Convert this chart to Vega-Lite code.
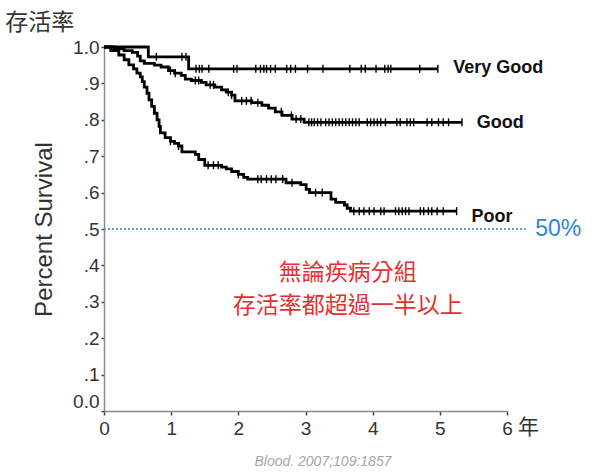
{
  "$schema": "https://vega.github.io/schema/vega-lite/v6.json",
  "width": 403,
  "height": 364,
  "autosize": {"type": "none"},
  "padding": {"left": 104, "top": 47, "right": 93, "bottom": 65},
  "background": "white",
  "config": {"view": {"stroke": null}, "font": "Liberation Sans"},
  "datasets": {
    "curves": [
      {"group": "Very Good", "t": 0, "s": 1.0},
      {"group": "Very Good", "t": 0.66, "s": 0.973},
      {"group": "Very Good", "t": 1.26, "s": 0.94},
      {"group": "Very Good", "t": 4.97, "s": 0.94},
      {"group": "Good", "t": 0, "s": 1.0},
      {"group": "Good", "t": 0.15, "s": 0.995},
      {"group": "Good", "t": 0.3, "s": 0.99},
      {"group": "Good", "t": 0.42, "s": 0.985},
      {"group": "Good", "t": 0.5, "s": 0.975},
      {"group": "Good", "t": 0.54, "s": 0.962},
      {"group": "Good", "t": 0.6, "s": 0.955},
      {"group": "Good", "t": 0.75, "s": 0.95},
      {"group": "Good", "t": 0.85, "s": 0.945},
      {"group": "Good", "t": 0.96, "s": 0.935},
      {"group": "Good", "t": 1.05, "s": 0.928},
      {"group": "Good", "t": 1.15, "s": 0.922},
      {"group": "Good", "t": 1.21, "s": 0.912},
      {"group": "Good", "t": 1.3, "s": 0.908},
      {"group": "Good", "t": 1.45, "s": 0.903},
      {"group": "Good", "t": 1.52, "s": 0.896},
      {"group": "Good", "t": 1.65, "s": 0.89},
      {"group": "Good", "t": 1.75, "s": 0.882},
      {"group": "Good", "t": 1.82, "s": 0.876},
      {"group": "Good", "t": 1.9, "s": 0.868},
      {"group": "Good", "t": 1.95, "s": 0.852},
      {"group": "Good", "t": 2.2, "s": 0.847},
      {"group": "Good", "t": 2.35, "s": 0.84},
      {"group": "Good", "t": 2.45, "s": 0.832},
      {"group": "Good", "t": 2.55, "s": 0.822},
      {"group": "Good", "t": 2.65, "s": 0.812},
      {"group": "Good", "t": 2.8, "s": 0.802},
      {"group": "Good", "t": 2.98, "s": 0.793},
      {"group": "Good", "t": 5.33, "s": 0.793},
      {"group": "Poor", "t": 0, "s": 1.0},
      {"group": "Poor", "t": 0.1, "s": 0.99},
      {"group": "Poor", "t": 0.22, "s": 0.978},
      {"group": "Poor", "t": 0.3, "s": 0.965},
      {"group": "Poor", "t": 0.37, "s": 0.951},
      {"group": "Poor", "t": 0.44, "s": 0.94},
      {"group": "Poor", "t": 0.49, "s": 0.928},
      {"group": "Poor", "t": 0.54, "s": 0.918},
      {"group": "Poor", "t": 0.57, "s": 0.905},
      {"group": "Poor", "t": 0.6, "s": 0.89},
      {"group": "Poor", "t": 0.64, "s": 0.873},
      {"group": "Poor", "t": 0.67, "s": 0.855},
      {"group": "Poor", "t": 0.71, "s": 0.837},
      {"group": "Poor", "t": 0.75, "s": 0.818},
      {"group": "Poor", "t": 0.79, "s": 0.8},
      {"group": "Poor", "t": 0.82, "s": 0.782},
      {"group": "Poor", "t": 0.84, "s": 0.764},
      {"group": "Poor", "t": 0.91, "s": 0.751},
      {"group": "Poor", "t": 0.99, "s": 0.741},
      {"group": "Poor", "t": 1.05, "s": 0.735},
      {"group": "Poor", "t": 1.11, "s": 0.728},
      {"group": "Poor", "t": 1.16, "s": 0.712},
      {"group": "Poor", "t": 1.36, "s": 0.705},
      {"group": "Poor", "t": 1.41, "s": 0.691},
      {"group": "Poor", "t": 1.5, "s": 0.675},
      {"group": "Poor", "t": 1.75, "s": 0.67},
      {"group": "Poor", "t": 1.82, "s": 0.665},
      {"group": "Poor", "t": 1.9, "s": 0.658},
      {"group": "Poor", "t": 2.0, "s": 0.65},
      {"group": "Poor", "t": 2.08, "s": 0.642},
      {"group": "Poor", "t": 2.14, "s": 0.637},
      {"group": "Poor", "t": 2.71, "s": 0.627},
      {"group": "Poor", "t": 2.93, "s": 0.622},
      {"group": "Poor", "t": 3.01, "s": 0.609},
      {"group": "Poor", "t": 3.06, "s": 0.6},
      {"group": "Poor", "t": 3.38, "s": 0.582},
      {"group": "Poor", "t": 3.45, "s": 0.573},
      {"group": "Poor", "t": 3.58, "s": 0.566},
      {"group": "Poor", "t": 3.62, "s": 0.557},
      {"group": "Poor", "t": 3.67, "s": 0.549},
      {"group": "Poor", "t": 5.25, "s": 0.549}
    ],
    "censor": [
      {"group": "Very Good", "t": 0.78, "s": 0.973},
      {"group": "Very Good", "t": 1.16, "s": 0.973},
      {"group": "Very Good", "t": 1.22, "s": 0.973},
      {"group": "Very Good", "t": 1.37, "s": 0.94},
      {"group": "Very Good", "t": 1.42, "s": 0.94},
      {"group": "Very Good", "t": 1.46, "s": 0.94},
      {"group": "Very Good", "t": 1.56, "s": 0.94},
      {"group": "Very Good", "t": 1.93, "s": 0.94},
      {"group": "Very Good", "t": 1.98, "s": 0.94},
      {"group": "Very Good", "t": 2.26, "s": 0.94},
      {"group": "Very Good", "t": 2.33, "s": 0.94},
      {"group": "Very Good", "t": 2.38, "s": 0.94},
      {"group": "Very Good", "t": 2.42, "s": 0.94},
      {"group": "Very Good", "t": 2.48, "s": 0.94},
      {"group": "Very Good", "t": 2.55, "s": 0.94},
      {"group": "Very Good", "t": 2.72, "s": 0.94},
      {"group": "Very Good", "t": 2.78, "s": 0.94},
      {"group": "Very Good", "t": 2.85, "s": 0.94},
      {"group": "Very Good", "t": 3.03, "s": 0.94},
      {"group": "Very Good", "t": 3.26, "s": 0.94},
      {"group": "Very Good", "t": 3.66, "s": 0.94},
      {"group": "Very Good", "t": 3.83, "s": 0.94},
      {"group": "Very Good", "t": 3.89, "s": 0.94},
      {"group": "Very Good", "t": 4.05, "s": 0.94},
      {"group": "Very Good", "t": 4.18, "s": 0.94},
      {"group": "Very Good", "t": 4.23, "s": 0.94},
      {"group": "Very Good", "t": 4.27, "s": 0.94},
      {"group": "Very Good", "t": 4.7, "s": 0.94},
      {"group": "Very Good", "t": 4.97, "s": 0.94},
      {"group": "Good", "t": 0.99, "s": 0.935},
      {"group": "Good", "t": 1.06, "s": 0.928},
      {"group": "Good", "t": 1.36, "s": 0.908},
      {"group": "Good", "t": 1.41, "s": 0.908},
      {"group": "Good", "t": 1.58, "s": 0.896},
      {"group": "Good", "t": 1.63, "s": 0.896},
      {"group": "Good", "t": 1.85, "s": 0.876},
      {"group": "Good", "t": 1.9, "s": 0.868},
      {"group": "Good", "t": 2.05, "s": 0.852},
      {"group": "Good", "t": 2.12, "s": 0.852},
      {"group": "Good", "t": 2.19, "s": 0.852},
      {"group": "Good", "t": 2.29, "s": 0.847},
      {"group": "Good", "t": 2.64, "s": 0.822},
      {"group": "Good", "t": 2.79, "s": 0.812},
      {"group": "Good", "t": 2.86, "s": 0.802},
      {"group": "Good", "t": 2.93, "s": 0.802},
      {"group": "Good", "t": 3.05, "s": 0.793},
      {"group": "Good", "t": 3.09, "s": 0.793},
      {"group": "Good", "t": 3.13, "s": 0.793},
      {"group": "Good", "t": 3.18, "s": 0.793},
      {"group": "Good", "t": 3.23, "s": 0.793},
      {"group": "Good", "t": 3.3, "s": 0.793},
      {"group": "Good", "t": 3.35, "s": 0.793},
      {"group": "Good", "t": 3.4, "s": 0.793},
      {"group": "Good", "t": 3.45, "s": 0.793},
      {"group": "Good", "t": 3.5, "s": 0.793},
      {"group": "Good", "t": 3.55, "s": 0.793},
      {"group": "Good", "t": 3.6, "s": 0.793},
      {"group": "Good", "t": 3.65, "s": 0.793},
      {"group": "Good", "t": 3.7, "s": 0.793},
      {"group": "Good", "t": 3.75, "s": 0.793},
      {"group": "Good", "t": 3.8, "s": 0.793},
      {"group": "Good", "t": 3.92, "s": 0.793},
      {"group": "Good", "t": 3.97, "s": 0.793},
      {"group": "Good", "t": 4.02, "s": 0.793},
      {"group": "Good", "t": 4.07, "s": 0.793},
      {"group": "Good", "t": 4.12, "s": 0.793},
      {"group": "Good", "t": 4.19, "s": 0.793},
      {"group": "Good", "t": 4.36, "s": 0.793},
      {"group": "Good", "t": 4.41, "s": 0.793},
      {"group": "Good", "t": 4.51, "s": 0.793},
      {"group": "Good", "t": 4.56, "s": 0.793},
      {"group": "Good", "t": 4.61, "s": 0.793},
      {"group": "Good", "t": 4.81, "s": 0.793},
      {"group": "Good", "t": 4.88, "s": 0.793},
      {"group": "Good", "t": 4.98, "s": 0.793},
      {"group": "Good", "t": 5.05, "s": 0.793},
      {"group": "Good", "t": 5.13, "s": 0.793},
      {"group": "Good", "t": 5.33, "s": 0.793},
      {"group": "Poor", "t": 0.99, "s": 0.741},
      {"group": "Poor", "t": 1.11, "s": 0.728},
      {"group": "Poor", "t": 1.55, "s": 0.675},
      {"group": "Poor", "t": 1.63, "s": 0.675},
      {"group": "Poor", "t": 1.7, "s": 0.675},
      {"group": "Poor", "t": 2.0, "s": 0.65},
      {"group": "Poor", "t": 2.29, "s": 0.637},
      {"group": "Poor", "t": 2.34, "s": 0.637},
      {"group": "Poor", "t": 2.42, "s": 0.637},
      {"group": "Poor", "t": 2.49, "s": 0.637},
      {"group": "Poor", "t": 2.56, "s": 0.637},
      {"group": "Poor", "t": 2.66, "s": 0.637},
      {"group": "Poor", "t": 2.8, "s": 0.627},
      {"group": "Poor", "t": 3.15, "s": 0.6},
      {"group": "Poor", "t": 3.25, "s": 0.6},
      {"group": "Poor", "t": 3.72, "s": 0.549},
      {"group": "Poor", "t": 3.8, "s": 0.549},
      {"group": "Poor", "t": 3.87, "s": 0.549},
      {"group": "Poor", "t": 3.95, "s": 0.549},
      {"group": "Poor", "t": 4.02, "s": 0.549},
      {"group": "Poor", "t": 4.12, "s": 0.549},
      {"group": "Poor", "t": 4.17, "s": 0.549},
      {"group": "Poor", "t": 4.34, "s": 0.549},
      {"group": "Poor", "t": 4.39, "s": 0.549},
      {"group": "Poor", "t": 4.44, "s": 0.549},
      {"group": "Poor", "t": 4.49, "s": 0.549},
      {"group": "Poor", "t": 4.54, "s": 0.549},
      {"group": "Poor", "t": 4.71, "s": 0.549},
      {"group": "Poor", "t": 4.76, "s": 0.549},
      {"group": "Poor", "t": 4.83, "s": 0.549},
      {"group": "Poor", "t": 4.88, "s": 0.549},
      {"group": "Poor", "t": 4.96, "s": 0.549},
      {"group": "Poor", "t": 5.05, "s": 0.549},
      {"group": "Poor", "t": 5.25, "s": 0.549}
    ]
  },
  "encoding": {
    "x": {
      "field": "t",
      "type": "quantitative",
      "scale": {"domain": [0, 6], "nice": false, "zero": false},
      "axis": {
        "values": [0, 1, 2, 3, 4, 5, 6],
        "format": "d",
        "title": null,
        "grid": false,
        "labelFont": "Liberation Sans",
        "labelFontSize": 19,
        "labelColor": "#333333",
        "labelPadding": 4,
        "labelFlush": false,
        "tickSize": 4,
        "tickWidth": 1.5,
        "tickColor": "#444444",
        "domainColor": "#8a8a8a",
        "domainWidth": 1.5
      }
    },
    "y": {
      "field": "s",
      "type": "quantitative",
      "scale": {"domain": [0, 1], "nice": false, "zero": false},
      "axis": {
        "values": [0, 0.1, 0.2, 0.3, 0.4, 0.5, 0.6, 0.7, 0.8, 0.9, 1],
        "labelExpr": "datum.value == 1 ? '1.0' : (datum.value == 0 ? '0.0' : '.' + round(datum.value * 10))",
        "labelBaseline": {"condition": {"test": "datum.value == 0", "value": "bottom"}, "value": "middle"},
        "title": "Percent Survival",
        "titleFont": "Liberation Sans",
        "titleFontSize": 24,
        "titleFontWeight": "normal",
        "titleColor": "#333333",
        "titlePadding": 16,
        "grid": false,
        "labelFont": "Liberation Sans",
        "labelFontSize": 19,
        "labelColor": "#333333",
        "labelPadding": 2,
        "labelFlush": false,
        "tickSize": 3,
        "tickWidth": 1.5,
        "tickColor": "#444444",
        "domainColor": "#8a8a8a",
        "domainWidth": 1.5
      }
    }
  },
  "layer": [
    {
      "data": {"values": [{"t": 0, "t2": 6.28, "s": 0.5}]},
      "mark": {"type": "rule", "stroke": "#5b9bd5", "strokeWidth": 2, "strokeDash": [2, 2]},
      "encoding": {"x2": {"field": "t2"}}
    },
    {
      "data": {"name": "curves"},
      "mark": {"type": "line", "interpolate": "step-after", "stroke": "#000000", "strokeWidth": 2.8},
      "encoding": {"detail": {"field": "group"}}
    },
    {
      "data": {"name": "censor"},
      "mark": {"type": "point", "shape": "M0,-1L0,1", "filled": false, "stroke": "#000000", "strokeWidth": 1.4, "size": 64, "opacity": 1},
      "encoding": {"detail": {"field": "group"}}
    },
    {
      "data": {"values": [
        {"label": "Very Good", "t": 5.2, "s": 0.943},
        {"label": "Good", "t": 5.55, "s": 0.792},
        {"label": "Poor", "t": 5.47, "s": 0.533}
      ]},
      "mark": {"type": "text", "align": "left", "baseline": "middle", "font": "Liberation Sans", "fontSize": 18, "fontWeight": "bold", "color": "#111111"},
      "encoding": {"text": {"field": "label"}}
    },
    {
      "data": {"values": [{"label": "50%", "t": 6.42, "s": 0.5}]},
      "mark": {"type": "text", "align": "left", "baseline": "middle", "font": "Liberation Sans", "fontSize": 23, "color": "#2f86d2"},
      "encoding": {"text": {"field": "label"}}
    },
    {
      "data": {"values": [
        {"label": "無論疾病分組", "t": 3.63, "s": 0.38},
        {"label": "存活率都超過一半以上", "t": 3.63, "s": 0.288}
      ]},
      "mark": {"type": "text", "align": "center", "baseline": "middle", "font": "Noto Sans CJK TC", "fontSize": 23, "color": "#e03232"},
      "encoding": {"text": {"field": "label"}}
    },
    {
      "data": {"values": [{"label": "存活率", "t": -1.47, "s": 1.066}]},
      "mark": {"type": "text", "align": "left", "baseline": "middle", "font": "Noto Sans CJK TC", "fontSize": 23, "color": "#333333"},
      "encoding": {"text": {"field": "label"}}
    },
    {
      "data": {"values": [{"label": "年", "t": 6.32, "s": -0.047}]},
      "mark": {"type": "text", "align": "center", "baseline": "middle", "font": "Noto Sans CJK TC", "fontSize": 21, "color": "#333333"},
      "encoding": {"text": {"field": "label"}}
    },
    {
      "data": {"values": [{"label": "Blood. 2007;109:1857", "t": 3.26, "s": -0.14}]},
      "mark": {"type": "text", "align": "center", "baseline": "middle", "font": "Liberation Sans", "fontSize": 14, "fontStyle": "italic", "color": "#a6a6a6"},
      "encoding": {"text": {"field": "label"}}
    }
  ]
}
